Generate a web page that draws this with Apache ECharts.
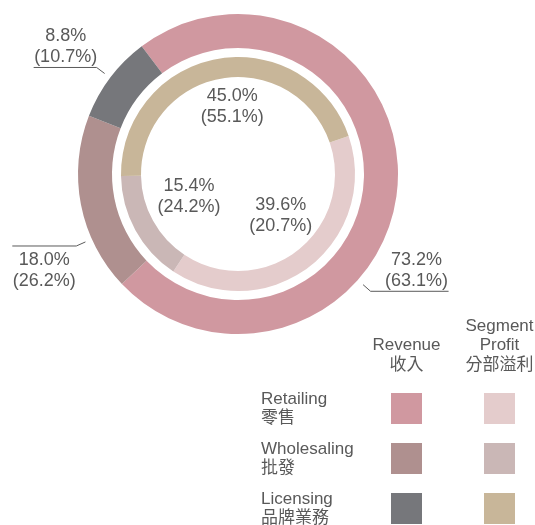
<!DOCTYPE html>
<html>
<head>
<meta charset="utf-8">
<script src="https://cdn.jsdelivr.net/npm/echarts@6/dist/echarts.min.js"></script>
<style>
  html, body { margin: 0; padding: 0; background: #fff; }
  #chart { width: 535px; height: 525px; }
</style>
</head>
<body>
<div id="chart"></div>
<script>
const segments = ['Retailing', 'Wholesaling', 'Licensing'];
const segmentsZh = ['零售', '批發', '品牌業務'];
const revenueShare = [73.2, 18.0, 8.8];
const revenueSharePrev = [63.1, 26.2, 10.7];
const profitShare = [39.6, 15.4, 45.0];
const profitSharePrev = [20.7, 24.2, 55.1];
const columnHeads = ['Revenue\n收入', 'Segment\nProfit\n分部溢利'];

const revenueColors = ['#d098a0', '#af908f', '#76777b'];
const profitColors = ['#e4cccc', '#cab7b6', '#c8b699'];
const textColor = '#595959';
const font = '"Liberation Sans", Arial, "Noto Sans CJK TC", sans-serif';

const cx = 238, cy = 174;
// leader lines of the outer ring: angle clockwise from 12 o'clock, text above/below, horizontal run
const outerLeaders = [
  { angle: 131.5, below: false, run: 78 },
  { angle: 246, below: true, run: 64 },
  { angle: 307, below: false, run: 63 }
];

const pct = v => v.toFixed(1) + '%';
const profitNames = segments.map(s => s + ' profit');

function outerLabelLayout(params) {
  const g = outerLeaders[params.dataIndex];
  const a = g.angle * Math.PI / 180;
  const sx = Math.sin(a), sy = -Math.cos(a);
  const p0 = [cx + sx * 167, cy + sy * 167];
  const p1 = [cx + sx * 177, cy + sy * 177];
  const dir = sx >= 0 ? 1 : -1;
  const p2 = [p1[0] + dir * g.run, p1[1]];
  return {
    x: p2[0] - dir * 32,
    y: g.below ? p1[1] + 4 : p1[1] + 0.5,
    align: 'center',
    verticalAlign: g.below ? 'top' : 'bottom',
    labelLinePoints: [p0, p1, p2]
  };
}

// pull the inner ring labels into the hole
function innerLabelLayout(params) {
  const r = params.labelRect;
  const lx = r.x + r.width / 2, ly = r.y + r.height / 2;
  const k = 0.56;
  return {
    x: cx + 5 + (lx - cx) * k,
    y: cy - 7 + (ly - cy) * k,
    align: 'center',
    verticalAlign: 'middle'
  };
}

const chart = echarts.init(document.getElementById('chart'));

const option = {
  animation: false,
  legend: [
    {
      orient: 'vertical',
      left: 261,
      top: 390.5,
      height: 140,
      padding: 0,
      align: 'right',
      icon: 'rect',
      itemWidth: 31,
      itemHeight: 31,
      itemGap: 14,
      selectedMode: false,
      data: segments,
      formatter: name => '{t|' + name + '}\n{t|' + segmentsZh[segments.indexOf(name)] + '}',
      textStyle: {
        color: textColor,
        fontFamily: font,
        fontSize: 17,
        rich: {
          t: { width: 125, align: 'left', color: textColor, fontFamily: font, fontSize: 17, lineHeight: 19 }
        }
      }
    },
    {
      orient: 'vertical',
      left: 484,
      top: 393,
      height: 140,
      padding: 0,
      icon: 'rect',
      itemWidth: 31,
      itemHeight: 31,
      itemGap: 19,
      selectedMode: false,
      data: profitNames,
      formatter: () => ''
    }
  ],
  graphic: columnHeads.map((t, i) => ({
    type: 'text',
    x: [406.5, 499.5][i],
    y: 375,
    style: {
      text: t,
      align: 'center',
      verticalAlign: 'bottom',
      fill: textColor,
      fontFamily: font,
      fontSize: 17,
      lineHeight: 19.5
    }
  })),
  series: [
    {
      type: 'pie',
      name: 'Revenue',
      center: [cx, cy],
      radius: [126, 160],
      startAngle: 127,
      clockwise: true,
      avoidLabelOverlap: false,
      silent: true,
      emphasis: { disabled: true },
      itemStyle: { borderWidth: 0 },
      label: {
        show: true,
        position: 'outside',
        color: textColor,
        fontFamily: font,
        fontSize: 18,
        lineHeight: 21,
        formatter: p => pct(revenueShare[p.dataIndex]) + '\n(' + pct(revenueSharePrev[p.dataIndex]) + ')'
      },
      labelLine: { show: true, lineStyle: { color: '#5a5a5a', width: 1 } },
      labelLayout: outerLabelLayout,
      data: segments.map((s, i) => ({ name: s, value: revenueShare[i], itemStyle: { color: revenueColors[i] } }))
    },
    {
      type: 'pie',
      name: 'Segment Profit',
      center: [cx, cy],
      radius: [97, 117],
      startAngle: 19,
      clockwise: true,
      avoidLabelOverlap: false,
      silent: true,
      emphasis: { disabled: true },
      itemStyle: { borderWidth: 0 },
      label: {
        show: true,
        position: 'inside',
        color: textColor,
        fontFamily: font,
        fontSize: 18,
        lineHeight: 21,
        formatter: p => pct(profitShare[p.dataIndex]) + '\n(' + pct(profitSharePrev[p.dataIndex]) + ')'
      },
      labelLine: { show: false },
      labelLayout: innerLabelLayout,
      data: profitNames.map((s, i) => ({ name: s, value: profitShare[i], itemStyle: { color: profitColors[i] } }))
    }
  ]
};

chart.setOption(option);
window.addEventListener('resize', function () {
  chart.resize();
});
</script>
</body>
</html>
